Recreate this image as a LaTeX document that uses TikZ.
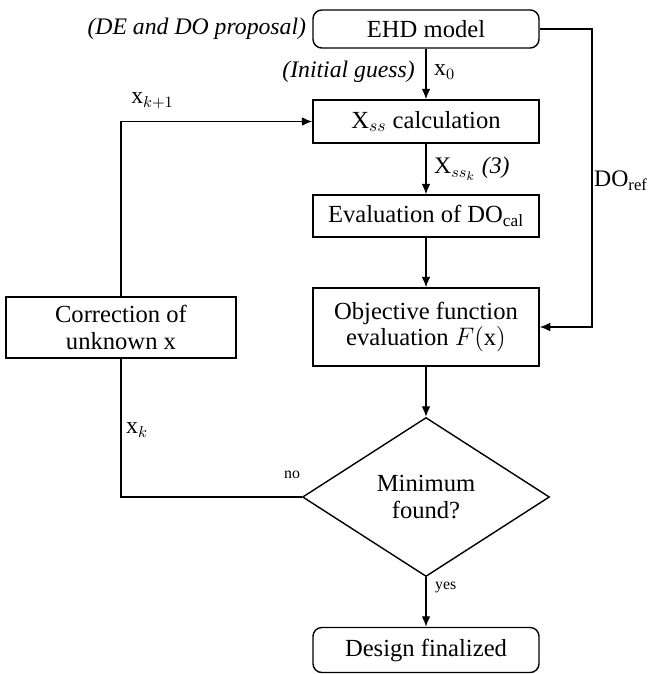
\documentclass[tikz,border=0pt]{standalone}
\usepackage{amsmath}
\usepackage{fontspec}
\setmainfont{Liberation Serif}
\usetikzlibrary{shapes.geometric, positioning, arrows.meta}

\begin{document}
\begin{tikzpicture}[
        box/.style={rectangle, draw, thick, minimum width=4.52cm, align=center, font=\fontsize{14}{15}\selectfont},
        endbox/.style={box, rounded corners=5pt},
        test/.style={diamond, draw, thick, minimum width=4.94cm, minimum height=3.18cm, inner sep=0pt, align=center, font=\fontsize{14}{15}\selectfont},
        flow/.style={thick, -{Latex[length=6pt, width=5pt]}},
        tag/.style={font=\fontsize{13.5}{15}\selectfont}
    ]
        \useasboundingbox (0, 0) rectangle (13.08, -13.48);

        \node[endbox, minimum height=0.76cm] (ehd) at (8.52, -0.58) {EHD model};
        \node[box, minimum height=0.86cm] (xss) at (8.52, -2.43) {X$_{ss}$ calculation};
        \node[box, minimum height=0.84cm] (eval) at (8.52, -4.32) {Evaluation of DO$_\mathrm{cal}$};
        \node[box, minimum height=1.56cm] (obj) at (8.52, -6.54) {Objective function\\ evaluation $F(\mathrm{x})$};
        \node[test] (min) at (8.52, -9.94) {Minimum\\ found?};
        \node[endbox, minimum height=0.9cm] (fin) at (8.52, -13.0) {Design finalized};
        \node[box, minimum width=4.6cm, minimum height=1.22cm] (corr) at (2.42, -6.55) {Correction of\\ unknown x};

        \coordinate (refa) at (11.84, -0.58);
        \coordinate (refb) at (11.84, -6.54);

        \node[tag, anchor=east, font=\fontsize{13.5}{15}\selectfont\itshape] (prop) at (ehd.west) {(DE and DO proposal)};
        \node[tag, anchor=east, font=\fontsize{13.5}{15}\selectfont\itshape] (guess) at (8.42, -1.44) {(Initial guess)};
        \node[tag, anchor=west] (x0) at (8.56, -1.44) {$\mathrm{x}_0$};
        \node[tag, anchor=west] (xssk) at (8.56, -3.38) {$\mathrm{X}_{ss_k}$ \textit{(3)}};
        \node[tag] (xk1) at (3.05, -2.02) {$\mathrm{x}_{k+1}$};
        \node[tag] (doref) at (12.42, -3.62) {DO$_\mathrm{ref}$};
        \node[tag, anchor=west] (xk) at (2.4, -8.6) {$\mathrm{x}_k$};
        \node[font=\fontsize{9}{10}\selectfont] (no) at (5.84, -9.5) {no};
        \node[font=\fontsize{9}{10}\selectfont, anchor=west] (yes) at (8.58, -11.74) {yes};

        \draw[flow] (ehd) to (xss);
        \draw[flow] (xss) to (eval);
        \draw[flow] (eval) to (obj);
        \draw[flow] (obj) to (min);
        \draw[flow] (min) to (fin);
        \draw[flow] (ehd.east) -- (refa) -- (refb) -- (obj.east);
        \draw[flow] (corr.north) |- (xss.west);
        \draw[thick] (min.west) -| (corr.south);
    \end{tikzpicture}
\end{document}
